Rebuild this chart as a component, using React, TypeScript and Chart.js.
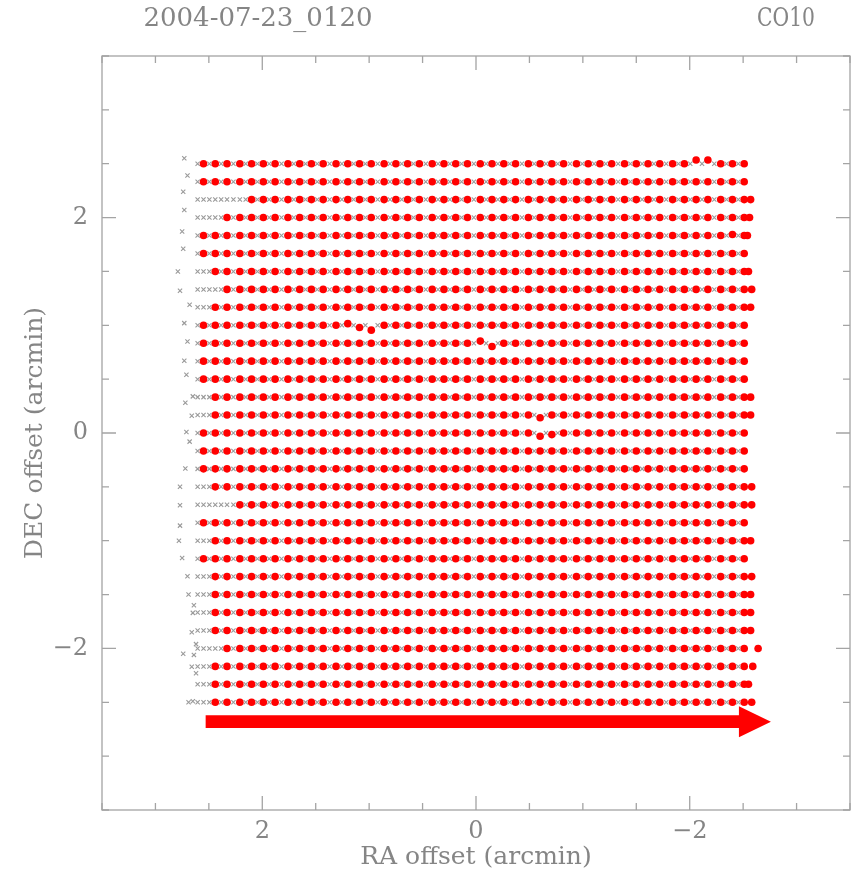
import React, { useEffect, useRef } from 'react';
import { Chart, registerables } from 'chart.js';

Chart.register(...registerables);

// ---- text ----
const titleLeft = '2004-07-23_0120';
const titleRight = 'CO10';
const xAxisTitle = 'RA offset (arcmin)';
const yAxisTitle = 'DEC offset (arcmin)';

// ---- axes ----
const axisMin = -3.5;
const axisMax = 3.5;
const tickStep = 0.5;
const labelledTicks = [-2, 0, 2];

// ---- data: scan rows (DEC, arcmin) ----
const decRows = [
  2.5, 2.333, 2.167, 2.0, 1.833, 1.667, 1.5, 1.333, 1.167, 1.0, 0.833, 0.667, 0.5, 0.333, 0.167, 0.0,
  -0.167, -0.333, -0.5, -0.667, -0.833, -1.0, -1.167, -1.333, -1.5, -1.667, -1.833, -2.0, -2.167, -2.333, -2.5,
];

// sample columns along each row (RA, arcmin)
const raCols = [
  2.55, 2.44, 2.33, 2.21, 2.1, 1.99, 1.88, 1.76, 1.65, 1.54, 1.43, 1.31, 1.2, 1.09, 0.98, 0.86,
  0.75, 0.64, 0.53, 0.41, 0.3, 0.19, 0.08, -0.04, -0.15, -0.26, -0.37, -0.49, -0.6, -0.71, -0.82,
  -0.94, -1.05, -1.16, -1.27, -1.39, -1.5, -1.61, -1.72, -1.84, -1.95, -2.06, -2.17, -2.29, -2.4, -2.51,
];

// first column with a good (red) sample in each row
const redStartCol = [0, 0, 4, 2, 0, 0, 1, 2, 1, 0, 0, 0, 0, 1, 1, 0, 0, 0, 1, 3, 0, 1, 0, 1, 1, 1, 1, 2, 1, 1, 1];

// extra (compressed) last good sample at the row end, RA
const redTailRA: (number | null)[] = [
  null, null, -2.57, -2.56, -2.54, null, -2.55, -2.58, -2.57, null, null, null, null, -2.57, -2.57, null,
  null, null, -2.58, -2.58, null, -2.57, null, -2.58, -2.57, -2.57, -2.57, -2.64, -2.59, -2.55, -2.58,
];

// small DEC wobbles of individual good samples: [row, column, dDEC]
const redShifts: [number, number, number][] = [
  [0, 41, 0.035], [0, 42, 0.035], [4, 44, 0.01], [9, 12, 0.015], [9, 13, -0.02], [9, 14, -0.045],
  [10, 23, 0.02], [10, 24, -0.03], [14, 28, -0.025], [15, 28, -0.03], [15, 29, -0.015],
];

// leading rejected samples at the start of each row [RA, DEC]
const greyLead: [number, number][] = [
  [2.73, 2.55], [2.7, 2.39], [2.74, 2.24], [2.73, 2.07], [2.75, 1.87], [2.74, 1.71], [2.79, 1.5], [2.77, 1.32],
  [2.68, 1.19], [2.73, 1.02], [2.7, 0.85], [2.73, 0.67], [2.71, 0.54], [2.72, 0.28], [2.66, 0.16], [2.71, 0.01],
  [2.68, -0.08], [2.72, -0.33], [2.77, -0.5], [2.77, -0.67], [2.77, -0.86], [2.78, -1.0], [2.75, -1.16], [2.7, -1.33],
  [2.69, -1.5], [2.64, -1.6], [2.66, -1.85], [2.62, -1.96], [2.74, -2.05], [2.66, -2.17], [2.69, -2.5],
];

// a few more scattered rejected samples [RA, DEC]
const greyExtra: [number, number][] = [
  [2.65, 0.34], [2.65, -1.67], [2.64, -2.06], [2.62, -2.23], [2.65, -2.49],
];

// scan direction arrow [RA, DEC]
const arrowFrom = [2.53, -2.68];
const arrowTo = [-2.76, -2.68];

const TEXT_COLOR = '#858585';
const FRAME_COLOR = '#a4a4a4';
const FONT_FAMILY = "'DejaVu Serif', serif";

function buildRed() {
  const pts: { x: number; y: number }[] = [];
  decRows.forEach((dec, r) => {
    for (let j = redStartCol[r]; j < raCols.length; j++) {
      const s = redShifts.find((t) => t[0] === r && t[1] === j);
      pts.push({ x: raCols[j], y: dec + (s ? s[2] : 0) });
    }
    const tail = redTailRA[r];
    if (tail !== null) pts.push({ x: tail, y: dec });
  });
  return pts;
}

function buildGrey() {
  const pts: { x: number; y: number }[] = [];
  decRows.forEach((dec, r) => {
    pts.push({ x: greyLead[r][0], y: greyLead[r][1] });
    pts.push({ x: raCols[0] + (raCols[0] - raCols[1]) / 2, y: dec });
    for (let j = 0; j < raCols.length - 1; j++) {
      pts.push({ x: (raCols[j] + raCols[j + 1]) / 2, y: dec });
    }
    for (let j = 0; j < redStartCol[r]; j++) pts.push({ x: raCols[j], y: dec });
  });
  greyExtra.forEach(([x, y]) => pts.push({ x, y }));
  return pts;
}

const isLabelled = (v: number) => labelledTicks.some((t) => Math.abs(t - v) < 1e-6);
const fmt = (v: number) => (v < 0 ? '\u2212' + Math.abs(v) : String(v));

const framePlugin = {
  id: 'pgFrame',
  afterDatasetsDraw(chart: any) {
    const { ctx, chartArea: a, scales } = chart;
    const xs = scales.x;
    const ys = scales.y;
    ctx.save();
    ctx.strokeStyle = FRAME_COLOR;
    ctx.lineWidth = 1.3;
    ctx.strokeRect(a.left, a.top, a.right - a.left, a.bottom - a.top);
    ctx.beginPath();
    xs.ticks.forEach((t: any) => {
      const px = xs.getPixelForValue(t.value);
      const len = isLabelled(t.value) ? 14 : 7;
      ctx.moveTo(px, a.bottom);
      ctx.lineTo(px, a.bottom - len);
      ctx.moveTo(px, a.top);
      ctx.lineTo(px, a.top + len);
    });
    ys.ticks.forEach((t: any) => {
      const py = ys.getPixelForValue(t.value);
      const len = isLabelled(t.value) ? 14 : 7;
      ctx.moveTo(a.left, py);
      ctx.lineTo(a.left + len, py);
      ctx.moveTo(a.right, py);
      ctx.lineTo(a.right - len, py);
    });
    ctx.stroke();

    // scan arrow
    const x0 = xs.getPixelForValue(arrowFrom[0]);
    const x1 = xs.getPixelForValue(arrowTo[0]);
    const y0 = ys.getPixelForValue(arrowFrom[1]);
    const headLen = 32;
    const headHalf = 15.5;
    const shaftHalf = 6.3;
    ctx.fillStyle = '#ff0000';
    ctx.beginPath();
    ctx.moveTo(x0, y0 - shaftHalf);
    ctx.lineTo(x1 - headLen, y0 - shaftHalf);
    ctx.lineTo(x1 - headLen, y0 - headHalf);
    ctx.lineTo(x1, y0);
    ctx.lineTo(x1 - headLen, y0 + headHalf);
    ctx.lineTo(x1 - headLen, y0 + shaftHalf);
    ctx.lineTo(x0, y0 + shaftHalf);
    ctx.closePath();
    ctx.fill();

    // header texts
    ctx.fillStyle = TEXT_COLOR;
    ctx.font = `26px ${FONT_FAMILY}`;
    ctx.textBaseline = 'middle';
    ctx.textAlign = 'center';
    ctx.fillText(titleLeft, 258, 19, 235);
    ctx.fillText(titleRight, 786, 19, 58);
    ctx.restore();
  },
};

export default function App() {
  const ref = useRef<HTMLCanvasElement>(null);
  useEffect(() => {
    if (!ref.current) return;
    const chart = new Chart(ref.current, {
      type: 'scatter',
      data: {
        datasets: [
          {
            label: 'good',
            data: buildRed(),
            order: 0,
            pointStyle: 'circle',
            pointRadius: 3.8,
            backgroundColor: '#ff0000',
            borderColor: '#ff0000',
            borderWidth: 0,
          },
          {
            label: 'all',
            data: buildGrey(),
            order: 1,
            pointStyle: 'crossRot',
            pointRadius: 3,
            borderColor: '#9a9a9a',
            backgroundColor: '#9a9a9a',
            borderWidth: 1.1,
          },
        ],
      },
      options: {
        responsive: false,
        animation: false,
        devicePixelRatio: 1,
        layout: { padding: { top: 56, right: 5, left: 0, bottom: 0 } },
        plugins: { legend: { display: false }, tooltip: { enabled: false }, title: { display: false } },
        scales: {
          x: {
            type: 'linear',
            min: axisMin,
            max: axisMax,
            reverse: true,
            grid: { display: false, drawTicks: false },
            border: { display: false },
            ticks: {
              stepSize: tickStep,
              autoSkip: false,
              maxRotation: 0,
              padding: 7,
              color: TEXT_COLOR,
              font: { family: FONT_FAMILY, size: 24 },
              callback: (v: any) => (isLabelled(Number(v)) ? fmt(Number(v)) : ''),
            },
            title: {
              display: true,
              text: xAxisTitle,
              color: TEXT_COLOR,
              font: { family: FONT_FAMILY, size: 25 },
              padding: { top: 0, bottom: 0 },
            },
            afterFit: (s: any) => {
              s.height = 62;
            },
          },
          y: {
            type: 'linear',
            min: axisMin,
            max: axisMax,
            grid: { display: false, drawTicks: false },
            border: { display: false },
            ticks: {
              stepSize: tickStep,
              autoSkip: false,
              padding: 14,
              color: TEXT_COLOR,
              font: { family: FONT_FAMILY, size: 24 },
              callback: (v: any) => (isLabelled(Number(v)) ? fmt(Number(v)) : ''),
            },
            title: {
              display: true,
              text: yAxisTitle,
              color: TEXT_COLOR,
              font: { family: FONT_FAMILY, size: 25 },
              padding: { top: 20, bottom: 0 },
            },
            afterFit: (s: any) => {
              s.width = 102;
            },
          },
        },
      },
      plugins: [framePlugin],
    });
    return () => chart.destroy();
  }, []);
  return (
    <div style={{ position: 'absolute', left: 0, top: 0, width: 857, height: 872, background: '#fff' }}>
      <canvas ref={ref} width={857} height={872} style={{ display: 'block' }} />
    </div>
  );
}
